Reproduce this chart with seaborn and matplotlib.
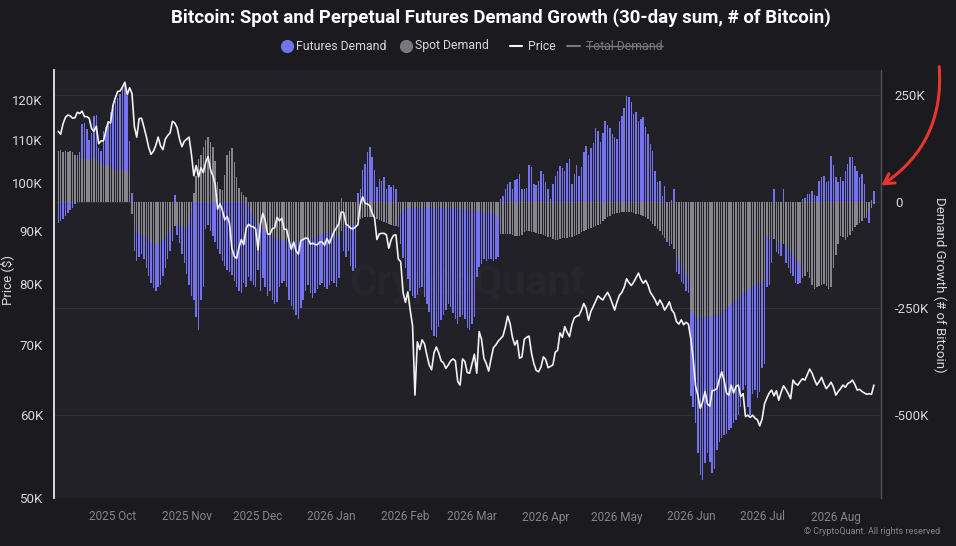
import numpy as np
import pandas as pd
import matplotlib.pyplot as plt
import matplotlib.dates as mdates
import seaborn as sns
from matplotlib.lines import Line2D
from matplotlib.patches import FancyArrowPatch

sns.set_theme(style="dark")
plt.rcParams['font.family'] = ['Roboto', 'DejaVu Sans']

# -----------------------
# data (price in K$, demand in K BTC), daily from 2025-09-08
# -----------------------
price_sep = [112.0, 111.3, 113.9, 115.5, 116.1, 115.9, 115.3, 115.4, 116.8, 116.5, 117.1, 115.7,
             115.7, 115.3, 112.7, 112.0, 113.3, 109.0, 109.7, 109.7, 112.1, 114.4, 114.1]
price_oct = [118.6, 120.6, 122.3, 122.4, 123.5, 124.8, 121.4, 123.3, 121.7, 113.2, 110.6, 115.2,
             115.3, 113.1, 110.8, 108.2, 106.5, 107.2, 108.6, 110.6, 108.5, 107.6, 110.1, 111.0,
             111.6, 114.5, 114.1, 112.9, 110.1, 108.3, 109.6]
price_nov = [110.1, 110.6, 106.5, 101.6, 103.9, 101.3, 103.4, 102.3, 104.7, 106.0, 103.0, 101.6,
             99.7, 94.4, 95.5, 94.2, 92.2, 92.9, 91.5, 86.6, 85.1, 84.7, 86.8, 88.3, 87.3, 90.5,
             91.3, 90.9, 90.8, 90.4]
price_dec = [86.3, 91.3, 93.5, 92.1, 89.4, 89.3, 90.4, 90.6, 92.7, 92.0, 92.5, 90.3, 90.3, 88.2,
             86.4, 87.8, 86.1, 85.5, 88.1, 88.3, 88.6, 88.5, 87.4, 87.6, 87.3, 87.3, 87.8, 87.8,
             87.2, 88.5, 87.5]
price_jan = [88.7, 89.9, 90.6, 91.4, 93.8, 93.7, 91.3, 91.0, 90.5, 90.4, 90.8, 91.2, 95.3, 97.0,
             95.6, 95.5, 95.1, 93.6, 92.6, 88.3, 89.4, 89.5, 89.5, 89.2, 86.6, 88.3, 89.1, 89.2,
             84.6, 84.1, 78.6]
price_feb = [76.9, 78.7, 75.6, 73.0, 62.7, 70.5, 69.3, 70.8, 70.2, 68.5, 67.0, 66.3, 68.8, 69.7,
             68.8, 67.6, 67.3, 66.5, 67.0, 67.6, 67.9, 67.6, 64.6, 64.1, 67.9, 67.5, 65.9, 65.8]
price_mar = [67.2, 68.6, 65.8, 72.1, 70.9, 68.0, 67.2, 66.1, 67.9, 69.6, 70.0, 70.6, 71.0, 71.4,
             72.8, 74.6, 73.4, 71.2, 70.0, 70.7, 68.0, 68.2, 70.9, 71.2, 71.4, 68.8, 67.2, 66.2,
             66.0, 66.7, 68.2]
price_apr = [67.8, 66.6, 66.8, 67.0, 68.9, 69.2, 71.9, 71.2, 72.9, 72.0, 71.3, 73.2, 74.3, 74.6,
             74.7, 75.6, 76.7, 75.9, 73.9, 75.4, 76.2, 77.1, 78.0, 77.6, 77.3, 78.0, 78.6, 77.8,
             76.7, 75.6]
price_may = [77.0, 78.1, 78.6, 79.5, 81.0, 80.3, 79.8, 80.4, 81.2, 82.0, 80.9, 80.2, 80.7, 79.9,
             78.6, 78.0, 77.3, 76.4, 77.3, 76.6, 75.6, 76.2, 77.0, 75.6, 75.1, 73.7, 73.3, 74.0,
             73.2, 73.6, 73.3]
price_jun = [71.0, 68.0, 64.0, 62.6, 60.9, 61.8, 63.2, 61.5, 61.2, 63.3, 63.4, 63.6, 64.9, 66.0,
             64.8, 63.0, 62.7, 64.1, 63.0, 63.9, 64.1, 62.5, 62.9, 59.8, 60.0, 59.7, 60.0, 59.6,
             59.4, 58.6]
price_jul = [59.5, 61.5, 62.3, 63.0, 63.4, 62.6, 63.3, 62.0, 63.1, 64.0, 63.5, 62.9, 62.2, 64.8,
             64.3, 64.1, 64.6, 65.0, 64.8, 65.6, 66.4, 65.8, 64.9, 64.1, 64.6, 65.2, 64.3, 63.6,
             64.0, 64.5, 63.8]
price_aug = [62.7, 63.2, 63.6, 64.1, 63.8, 64.3, 64.5, 64.8, 64.2, 63.4, 63.5, 63.2, 63.0, 62.8,
             62.9, 62.8, 64.1]

spot_sep = [118, 120, 117, 118, 116, 119, 115, 108, 104, 102, 100, 98, 100, 98, 100, 102, 100, 90,
            88, 86, 85, 84, 80]
fut_sep = [-50, -45, -40, -33, -27, -20, -14, -6, 5, 15, 82, 85, 70, 45, 60, 98, 102, 35, 30, 80,
           90, 100, 130]
spot_oct = [76, 74, 73, 72, 72, 73, 72, 70, -30, -60, -70, -75, -78, -80, -85, -90, -95, -98, -100,
            -98, -95, -90, -85, -78, -70, -62, -58, -56, -58, -60, -62]
fut_oct = [150, 162, 170, 180, 195, 198, 176, 72, 20, -55, -70, -55, -45, -55, -70, -85, -95, -105,
           -110, -102, -100, -85, -70, -57, -45, -30, 15, -22, -40, -62, -83]
spot_nov = [-60, -50, -25, 20, 60, 100, 110, 128, 145, 150, 140, 128, 95, 45, 30, 28, 62, 108, 118,
            125, 92, 58, 32, 22, 15, 10, -12, -25, -35, -45]
fut_nov = [-110, -145, -195, -230, -270, -300, -230, -200, -65, -55, -70, -80, -95, -110, -122, -140,
           -150, -160, -165, -172, -185, -200, -210, -215, -190, -200, -165, -160, -160, -155]
spot_dec = [-55, -60, -65, -70, -75, -78, -82, -85, -88, -90, -90, -92, -92, -93, -94, -95, -95, -94,
            -92, -90, -88, -86, -85, -84, -82, -80, -78, -76, -75, -74, -72]
fut_dec = [-105, -150, -115, -130, -145, -132, -148, -155, -147, -110, -100, -93, -108, -137, -151,
           -160, -170, -181, -158, -140, -122, -109, -130, -141, -133, -125, -117, -114, -125, -131,
           -123]
spot_jan = [-72, -80, -82, -80, -70, -60, -55, -55, -55, -52, -50, -42, -40, -38, -36, -35, -35, -36,
            -38, -40, -42, -45, -48, -50, -52, -55, -57, -58, -40, -30, -22]
fut_jan = [-113, -110, -118, -100, 8, -55, -75, -60, -95, -110, -105, 20, 30, 75, 88, 115, 127, 105,
           75, 35, 53, 49, 58, 30, 38, 34, 38, 30, -20, -70, -110]
spot_feb = [-18, -16, -15, -15, -14, -14, -15, -15, -14, -14, -13, -13, -14, -14, -15, -15, -16, -16,
            -15, -15, -16, -17, -17, -18, -18, -19, -19, -20]
fut_feb = [-137, -166, -195, -205, -211, -204, -188, -185, -209, -226, -245, -287, -301, -303, -279,
           -263, -250, -239, -224, -232, -246, -257, -269, -252, -248, -255, -278, -281]
spot_mar = [-20, -20, -21, -22, -22, -23, -24, -25, -26, -28, -30, -35, -76, -75, -76, -76, -76, -78,
            -80, -80, -81, -78, -72, -68, -70, -72, -72, -74, -75, -76, -78]
fut_mar = [-266, -250, -156, -131, -124, -111, -114, -109, -108, -110, -104, -95, 6, 14, 30, 40, 45,
           30, 50, 53, 65, 30, 30, 32, 85, 80, 40, 38, 48, 72, 65]
spot_apr = [-80, -82, -84, -88, -90, -90, -88, -86, -85, -85, -84, -82, -80, -78, -75, -72, -68, -66,
            -64, -62, -60, -58, -56, -52, -45, -40, -36, -33, -30, -28]
fut_apr = [45, 30, 6, 41, 60, 72, 84, 78, 72, 90, 100, 41, 65, 85, 60, 80, 115, 130, 108, 125, 138,
           173, 165, 140, 160, 189, 180, 172, 158, 150]
spot_may = [-27, -26, -25, -25, -24, -24, -25, -27, -28, -30, -32, -34, -36, -40, -45, -52, -58, -64,
            -70, -78, -85, -90, -95, -100, -110, -130, -140, -150, -160, -170, -180]
fut_may = [146, 189, 201, 220, 248, 245, 232, 205, 209, 189, 193, 197, 174, 158, 135, 119, 72, 45,
           49, 14, 37, -5, -10, 3, 30, -35, -30, -38, -32, -40, -35]
spot_jun = [-255, -265, -268, -270, -270, -272, -270, -270, -268, -268, -266, -265, -262, -260, -255,
            -250, -245, -240, -235, -230, -225, -220, -215, -210, -205, -200, -198, -196, -194, -192]
fut_jun = [-200, -215, -251, -319, -370, -380, -343, -319, -341, -368, -359, -317, -300, -294, -292,
           -293, -290, -291, -284, -282, -275, -260, -225, -220, -275, -300, -252, -244, -266, -253]
spot_jul = [-190, -188, -80, -85, -85, -88, -92, -95, -98, -100, -105, -110, -118, -125, -135, -140,
            -150, -180, -175, -165, -180, -195, -205, -200, -198, -195, -192, -198, -205, -200, -155]
fut_jul = [-200, -192, -120, -110, -60, 30, -25, -27, -30, 30, -40, -45, -50, -50, -55, -52, -40, 6,
           8, 18, 18, 25, 15, 14, 49, 57, 60, 45, 47, 107, 85]
spot_aug = [-125, -99, -80, -84, -90, -83, -78, -68, -60, -55, -50, -45, -38, -30, -24, -14, -6]
fut_aug = [57, 45, 57, 49, 72, 88, 104, 104, 84, 72, 57, 64, 41, -8, -26, 3, 25]

price = (price_sep + price_oct + price_nov + price_dec + price_jan + price_feb + price_mar
         + price_apr + price_may + price_jun + price_jul + price_aug)
spot = (spot_sep + spot_oct + spot_nov + spot_dec + spot_jan + spot_feb + spot_mar + spot_apr
        + spot_may + spot_jun + spot_jul + spot_aug)
futures = (fut_sep + fut_oct + fut_nov + fut_dec + fut_jan + fut_feb + fut_mar + fut_apr
           + fut_may + fut_jun + fut_jul + fut_aug)

df = pd.DataFrame({
    'date': pd.date_range('2025-09-08', periods=len(price)),
    'price': np.array(price) * 1000,
    'spot': spot,
    'futures': futures,
})
# futures stacked beyond spot when both point the same way
same_sign = np.sign(df['futures']) == np.sign(df['spot'])
fut_bottom = np.where(same_sign, df['spot'], 0)

# -----------------------
# figure
# -----------------------
BG = '#1a1a1f'
PANEL = '#212127'
BLUE = '#7472ee'
GREY = '#86868c'
TXT = '#d8d8dc'

fig = plt.figure(figsize=(9.56, 5.46), dpi=100, facecolor=BG)
ax = fig.add_axes([54 / 956, 48 / 546, 827 / 956, 428 / 546])
ax.set_facecolor(PANEL)

ax.bar(df['date'], df['spot'], width=0.62, color=GREY, linewidth=0, zorder=2)
ax.bar(df['date'], df['futures'], bottom=fut_bottom, width=0.62, color=BLUE, linewidth=0, zorder=2)

ax.text(0.50, 0.50, 'CryptoQuant', transform=ax.transAxes, ha='center', va='center',
        fontsize=30, fontweight='bold', color='#26262c', zorder=1)

pr = ax.twinx()
sns.lineplot(data=df, x='date', y='price', ax=pr, color='#f2f2f2', linewidth=1.2, zorder=5)

# demand axis on the right
ax.set_ylim(-694, 308)
ax.set_yticks([-500, -250, 0, 250])
ax.set_yticklabels(['-500K', '-250K', '0', '250K'])
ax.yaxis.tick_right()
ax.yaxis.set_label_position('right')
ax.grid(axis='y', color='#303037', linewidth=0.8)
ax.grid(axis='x', visible=False)
ax.set_axisbelow(True)
ax.tick_params(axis='y', colors=TXT, labelsize=9.5, length=0, pad=10,
               labelleft=False, labelright=True)
ax.tick_params(axis='x', colors='#85858b', labelsize=8.5, length=0, pad=9)
for s in ax.spines.values():
    s.set_visible(False)

# price axis on the left, log scale
pr.set_yscale('log')
pr.set_ylim(50000, 128200)
pr.set_yticks([50000, 60000, 70000, 80000, 90000, 100000, 110000, 120000])
pr.set_yticklabels(['50K', '60K', '70K', '80K', '90K', '100K', '110K', '120K'])
pr.yaxis.set_minor_locator(plt.NullLocator())
pr.yaxis.tick_left()
pr.tick_params(axis='y', colors=TXT, labelsize=9.5, length=0, pad=8,
               labelleft=True, labelright=False)
pr.set_ylabel('')
pr.set_xlabel('')
pr.grid(False)
for k in ['top', 'bottom']:
    pr.spines[k].set_visible(False)
pr.spines['left'].set_color('#e8e8ea')
pr.spines['left'].set_linewidth(1.3)
pr.spines['right'].set_color('#505057')
pr.spines['right'].set_linewidth(1.0)

start = df['date'].iloc[0]
ax.set_xlim(start - pd.Timedelta(days=1.8), start + pd.Timedelta(days=346))
ax.set_xticks(pd.date_range('2025-10-01', '2026-08-01', freq='MS'))
ax.xaxis.set_major_formatter(mdates.DateFormatter('%Y %b'))
ax.set_xlabel('')

# -----------------------
# texts
# -----------------------
def fx(px):
    return px / 956

def fy(py):
    return 1 - py / 546

fig.text(fx(501), fy(18), 'Bitcoin: Spot and Perpetual Futures Demand Growth (30-day sum, # of Bitcoin)',
         ha='center', va='center', fontsize=13.4, fontweight='bold', color='white')

ly = fy(46)
leg_fs = 8.8
fig.add_artist(Line2D([fx(287)], [ly], marker='o', ms=8.5, color=BLUE, transform=fig.transFigure))
fig.text(fx(296), ly, 'Futures Demand', va='center', fontsize=leg_fs, color=TXT)
fig.add_artist(Line2D([fx(406)], [ly], marker='o', ms=8.5, color='#77777d', transform=fig.transFigure))
fig.text(fx(415), ly, 'Spot Demand', va='center', fontsize=leg_fs, color=TXT)
fig.add_artist(Line2D([fx(510), fx(522)], [ly, ly], color='#f2f2f2', lw=1.5, transform=fig.transFigure))
fig.text(fx(528), ly, 'Price', va='center', fontsize=leg_fs, color=TXT)
fig.add_artist(Line2D([fx(567), fx(580)], [ly, ly], color='#77777d', lw=1.5, transform=fig.transFigure))
tot = fig.text(fx(586), ly, 'Total Demand', va='center', fontsize=leg_fs, color='#77777d')
fig.canvas.draw()
bb = tot.get_window_extent()
fig.add_artist(Line2D([bb.x0 / fig.bbox.width, bb.x1 / fig.bbox.width], [ly, ly],
                      color='#77777d', lw=1.0, transform=fig.transFigure))

fig.text(fx(7), fy(280), 'Price ($)', rotation=90, ha='center', va='center', fontsize=9.5, color=TXT)
fig.text(fx(940), fy(285), 'Demand Growth (# of Bitcoin)', rotation=270, ha='center', va='center',
         fontsize=9.5, color=TXT)
fig.text(fx(940), fy(532), '\u00a9 CryptoQuant. All rights reserved', ha='right', va='center',
         fontsize=6.5, color='#85858b')

arrow = FancyArrowPatch((fx(939), fy(64)), (fx(879), fy(187)), transform=fig.transFigure,
                        connectionstyle='arc3,rad=-0.3', arrowstyle='->,head_length=7,head_width=4',
                        color='#e8352d', lw=2.2)
fig.add_artist(arrow)

fig.savefig('out.png', dpi=100, facecolor=BG)
